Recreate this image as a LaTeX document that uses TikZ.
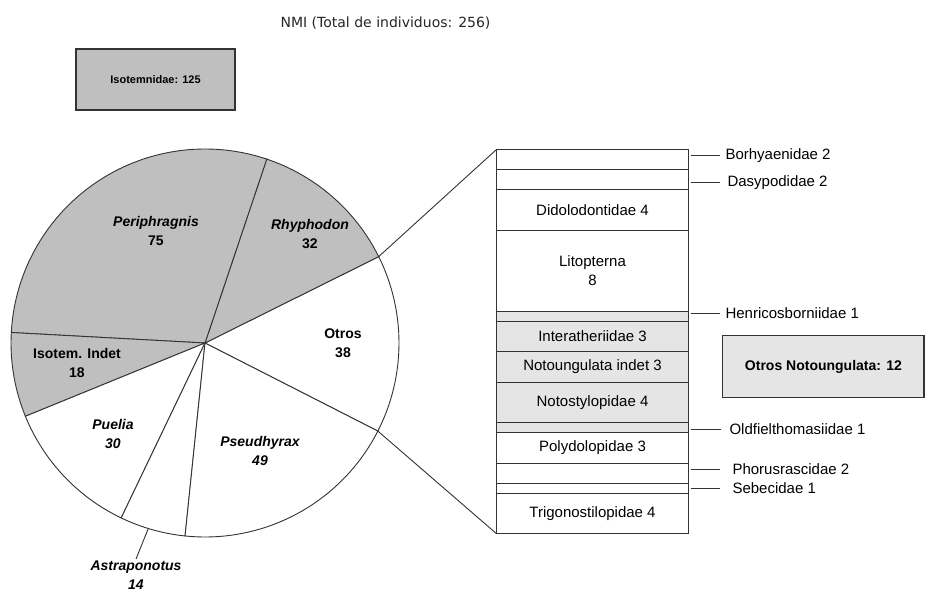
\documentclass[tikz,border=0pt]{standalone}
\usepackage{fontspec}
\setmainfont{Liberation Sans}
\newfontfamily\titlefont{DejaVu Sans}
\usepackage{tikz}
\usetikzlibrary{positioning}
\colorlet{isogray}{black!25}
\colorlet{notogray}{black!10}
\colorlet{edge}{black!80}

\begin{document}
\begin{tikzpicture}[
        x=1pt, y=-1pt,
        slice/.style={draw=edge, line width=0.9pt},
        slicelbl/.style={font=\bfseries\fontsize{14}{19}\selectfont, align=center, inner sep=2pt},
        seg/.style={draw=edge, line width=1pt, minimum width=191.6pt, minimum height=#1*10.12pt,
            inner sep=0pt, outer sep=0pt, align=center, font=\fontsize{15}{19}\selectfont},
        seg/.default=1,
        sidelbl/.style={font=\fontsize{15}{18}\selectfont, inner sep=0pt},
        leader/.style={draw=edge, line width=0.9pt, shorten <=3pt, shorten >=8pt},
        sumbox/.style={draw=edge, line width=1.2pt, inner sep=0pt}
    ]
        \useasboundingbox (0,0) rectangle (927,593);

        \node[font=\titlefont\fontsize{14}{16}\selectfont, text=black!85] (title) at (385.5,23.5) {NMI (Total de individuos: 256)};
        \node[sumbox, fill=isogray, minimum width=159pt, minimum height=61pt,
            font=\bfseries\fontsize{11}{13}\selectfont] (iso) at (155.5,79.5) {Isotemnidae: 125};

        % pie
        \begin{scope}[shift={(205,343)}]
            \foreach \a/\b/\c in {-27/26.44/white, 26.44/71.44/isogray, 71.44/176.9/isogray,
                176.9/202.2/isogray, 202.2/244.4/white, 244.4/264.1/white, 264.1/333/white}
                \draw[slice, fill=\c] (0,0) -- (\a:194pt) arc[start angle=\a, end angle=\b, radius=194pt] -- cycle;
            \coordinate (otop) at (26.44:194pt);
            \coordinate (obot) at (-27:194pt);
            \coordinate (astr) at (253:194pt);
        \end{scope}

        \node[slicelbl] (peri) at (156,231) {{\itshape Periphragnis}\\75};
        \node[slicelbl] (rhyp) at (310,234) {{\itshape Rhyphodon}\\32};
        \node[slicelbl] (otros) at (343,343) {Otros\\38};
        \node[slicelbl] (isoind) at (77,363) {Isotem. Indet\\18};
        \node[slicelbl] (puel) at (113,434) {{\itshape Puelia}\\{\itshape 30}};
        \node[slicelbl] (pseu) at (260,451) {{\itshape Pseudhyrax}\\{\itshape 49}};
        \node[slicelbl, anchor=north] (astra) at (136,559) {{\itshape Astraponotus}\\{\itshape 14}};
        \draw[slice] (astr) -- (astra.north);

        % bar of Otros
        \node[seg=2, anchor=north west] (bor) at (496.7,149.3) {};
        \node[seg=2, below=0pt of bor] (das) {};
        \node[seg=4, below=0pt of das] (dido) {Didolodontidae 4};
        \node[seg=8, below=0pt of dido] (lito) {Litopterna\\8};
        \node[seg=1, fill=notogray, below=0pt of lito] (henr) {};
        \node[seg=3, fill=notogray, below=0pt of henr] (inter) {Interatheriidae 3};
        \node[seg=3, fill=notogray, below=0pt of inter] (notind) {Notoungulata indet 3};
        \node[seg=4, fill=notogray, below=0pt of notind] (notos) {Notostylopidae 4};
        \node[seg=1, fill=notogray, below=0pt of notos] (oldf) {};
        \node[seg=3, below=0pt of oldf] (poly) {Polydolopidae 3};
        \node[seg=2, below=0pt of poly] (phor) {};
        \node[seg=1, below=0pt of phor] (sebe) {};
        \node[seg=4, below=0pt of sebe] (trig) {Trigonostilopidae 4};

        \draw[slice] (otop) -- (bor.north west);
        \draw[slice] (obot) -- (trig.south west);

        \node[sidelbl, right=37pt of bor, yshift=4pt] (lbor) {Borhyaenidae 2};
        \node[sidelbl, right=39pt of das, yshift=-3pt] (ldas) {Dasypodidae 2};
        \node[sidelbl, right=37pt of henr, yshift=3pt] (lhenr) {Henricosborniidae 1};
        \node[sidelbl, right=41pt of oldf, yshift=-1.5pt] (loldf) {Oldfielthomasiidae 1};
        \node[sidelbl, right=44pt of phor, yshift=4pt] (lphor) {Phorusrascidae 2};
        \node[sidelbl, right=44pt of sebe] (lsebe) {Sebecidae 1};
        \draw[leader] (bor.east |- lbor.west) -- ([xshift=3pt]lbor.west);
        \draw[leader] (das.east |- ldas.west) -- ([xshift=1pt]ldas.west);
        \draw[leader] (henr.east |- lhenr.west) -- ([xshift=3pt]lhenr.west);
        \draw[leader] (oldf.east |- loldf.west) -- (loldf.west);
        \draw[leader] (phor.east |- lphor.west) -- ([xshift=-4pt]lphor.west);
        \draw[leader] (sebe.east |- lsebe.west) -- ([xshift=-4pt]lsebe.west);

        \node[sumbox, fill=notogray, minimum width=201.3pt, minimum height=61.6pt,
            font=\bfseries\fontsize{14}{16}\selectfont] (onoto) at (823.4,366.5) {Otros Notoungulata: 12};
\end{tikzpicture}
\end{document}
